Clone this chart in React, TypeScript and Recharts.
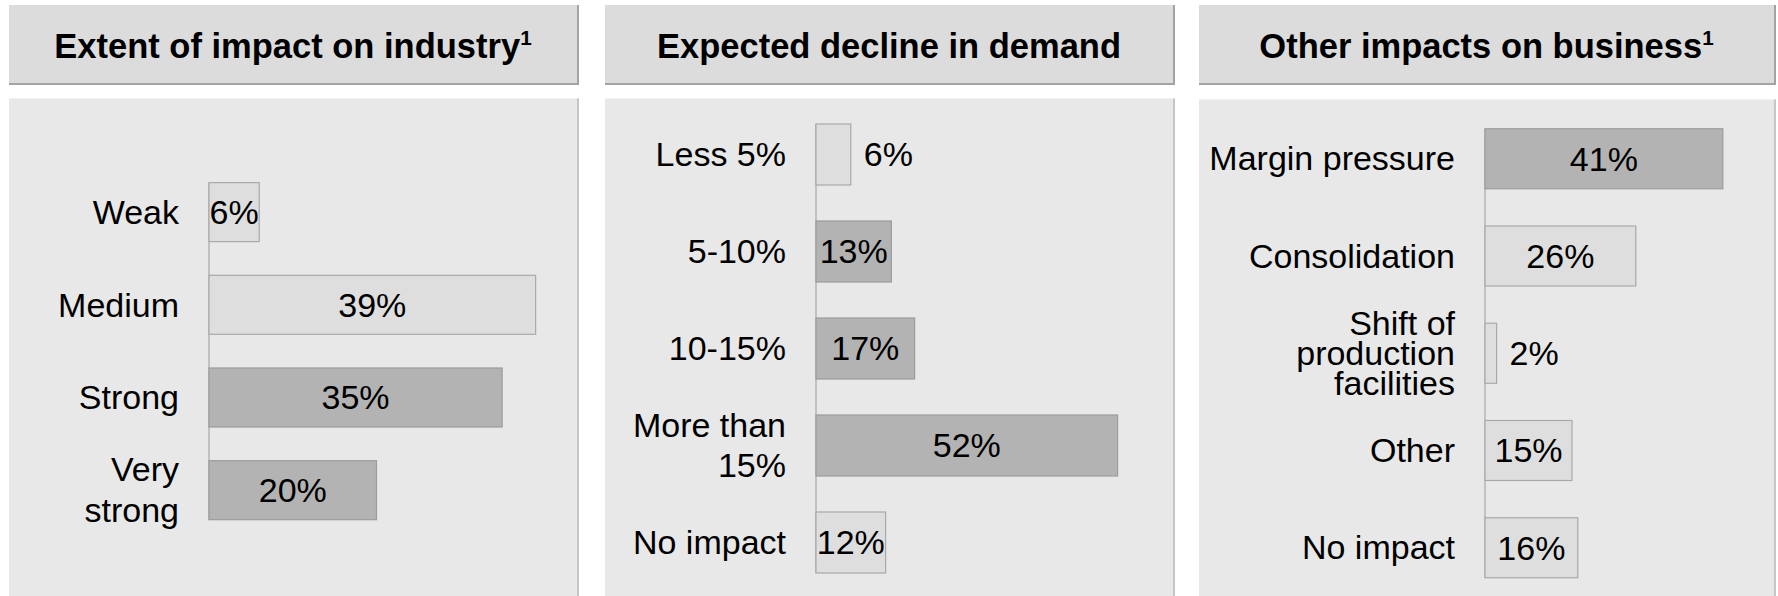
import React from "react";
import { BarChart, Bar, XAxis, YAxis, LabelList } from "recharts";

// Extent of impact on industry
const impactCategories = ["Weak", "Medium", "Strong", "Very\nstrong"];
const impactValues = [6, 39, 35, 20];
const impactDark = ["Strong", "Very\nstrong"];

// Expected decline in demand
const declineCategories = ["Less 5%", "5-10%", "10-15%", "More than\n15%", "No impact"];
const declineValues = [6, 13, 17, 52, 12];
const declineDark = ["5-10%", "10-15%", "More than\n15%"];

// Other impacts on business
const businessCategories = [
  "Margin pressure",
  "Consolidation",
  "Shift of\nproduction\nfacilities",
  "Other",
  "No impact",
];
const businessValues = [41, 26, 2, 15, 16];
const businessDark = ["Margin pressure"];

const FONT = '"Liberation Sans", Arial, Helvetica, sans-serif';
const LIGHT = { fill: "#dedede", stroke: "#a9a9a9" };
const DARK = { fill: "#b3b3b3", stroke: "#9c9c9c" };

type PanelProps = {
  title: string;
  footnote?: boolean;
  categories: string[];
  values: number[];
  dark: string[];
  left: number;
  width: number;
  bodyTop: number;
  axisWidth: number;
  domainMax: number;
  marginTop: number;
  marginBottom: number;
  marginRight: number;
  barSize: number;
  lineHeight: number;
};

const CategoryTick = (props: any) => {
  const { x, y, payload, lineHeight } = props;
  const lines = String(payload.value).split("\n");
  const start = -((lines.length - 1) * lineHeight) / 2;
  return (
    <text x={x} y={y} textAnchor="end" fontSize={34} fill="#000" fontFamily={FONT}>
      {lines.map((l, i) => (
        <tspan key={i} x={x} y={y + start + i * lineHeight} dy="0.35em">
          {l}
        </tspan>
      ))}
    </text>
  );
};

const ValueLabel = (props: any) => {
  const { x, y, width, height, value } = props;
  const inside = width >= 45;
  const tx = inside ? x + width / 2 : x + width + 13;
  return (
    <text
      x={tx}
      y={y + height / 2}
      dy="0.35em"
      textAnchor={inside ? "middle" : "start"}
      fontSize={34}
      fill="#000"
      fontFamily={FONT}
    >
      {value}%
    </text>
  );
};

const Panel: React.FC<PanelProps> = (p) => {
  const data = p.categories.map((name, i) => ({ name, value: p.values[i] }));
  const bodyHeight = 596 - p.bodyTop;
  const plotHeight = bodyHeight - p.marginTop - p.marginBottom;
  const band = plotHeight / data.length;
  const last = data.length - 1;

  // bar plus the piece of axis line running down to the next bar
  const shape = (s: any) => {
    const c = p.dark.includes(s.payload.name) ? DARK : LIGHT;
    const lineEnd = s.index === last ? s.y + s.height : s.y + band;
    return (
      <g>
        <line x1={s.x} x2={s.x} y1={s.y} y2={lineEnd} stroke="#b4b4b4" strokeWidth={1.5} />
        <rect
          x={s.x}
          y={s.y}
          width={Math.max(s.width, 0)}
          height={s.height}
          fill={c.fill}
          stroke={c.stroke}
          strokeWidth={1.2}
        />
      </g>
    );
  };

  return (
    <>
      <div
        style={{
          position: "absolute",
          left: p.left,
          top: 5,
          width: p.width,
          height: 80,
          boxSizing: "border-box",
          paddingTop: 5,
          background: "#dcdcdc",
          borderRight: "2px solid #a3a3a3",
          borderBottom: "2px solid #a3a3a3",
          display: "flex",
          alignItems: "center",
          justifyContent: "center",
          fontFamily: FONT,
          fontWeight: "bold",
          fontSize: 34.5,
          color: "#000",
        }}
      >
        <span>
          {p.title}
          {p.footnote && (
            <sup style={{ fontSize: "0.6em", verticalAlign: "0.65em", lineHeight: 0 }}>1</sup>
          )}
        </span>
      </div>
      <div
        style={{
          position: "absolute",
          left: p.left,
          top: p.bodyTop,
          width: p.width,
          height: bodyHeight,
          boxSizing: "border-box",
          background: "#e8e8e8",
          borderRight: "2px solid #c6c6c6",
          borderTop: "1px solid #f2f2f2",
        }}
      >
        <BarChart
          width={p.width - 2}
          height={bodyHeight - 1}
          data={data}
          layout="vertical"
          margin={{ top: p.marginTop - 1, bottom: p.marginBottom, left: 0, right: p.marginRight - 2 }}
        >
          <XAxis type="number" hide domain={[0, p.domainMax]} />
          <YAxis
            type="category"
            dataKey="name"
            width={p.axisWidth}
            axisLine={false}
            tickLine={false}
            tickSize={0}
            tickMargin={30}
            interval={0}
            tick={<CategoryTick lineHeight={p.lineHeight} />}
          />
          <Bar dataKey="value" barSize={p.barSize} shape={shape} isAnimationActive={false}>
            <LabelList dataKey="value" content={ValueLabel} />
          </Bar>
        </BarChart>
      </div>
    </>
  );
};

export default function App() {
  return (
    <div
      style={{
        position: "absolute",
        left: 0,
        top: 0,
        width: 1778,
        height: 596,
        overflow: "hidden",
        background: "#fff",
      }}
    >
      <Panel
        title="Extent of impact on industry"
        footnote
        categories={impactCategories}
        values={impactValues}
        dark={impactDark}
        left={9}
        width={570}
        bodyTop={98}
        axisWidth={200}
        domainMax={40}
        marginTop={67.6}
        marginBottom={59.6}
        marginRight={35}
        barSize={59}
        lineHeight={41}
      />
      <Panel
        title="Expected decline in demand"
        categories={declineCategories}
        values={declineValues}
        dark={declineDark}
        left={605}
        width={570}
        bodyTop={98}
        axisWidth={211}
        domainMax={60}
        marginTop={8}
        marginBottom={5}
        marginRight={11}
        barSize={61}
        lineHeight={40}
      />
      <Panel
        title="Other impacts on business"
        footnote
        categories={businessCategories}
        values={businessValues}
        dark={businessDark}
        left={1199}
        width={577}
        bodyTop={99}
        axisWidth={286}
        domainMax={50}
        marginTop={10.75}
        marginBottom={0}
        marginRight={1}
        barSize={60}
        lineHeight={30}
      />
    </div>
  );
}
